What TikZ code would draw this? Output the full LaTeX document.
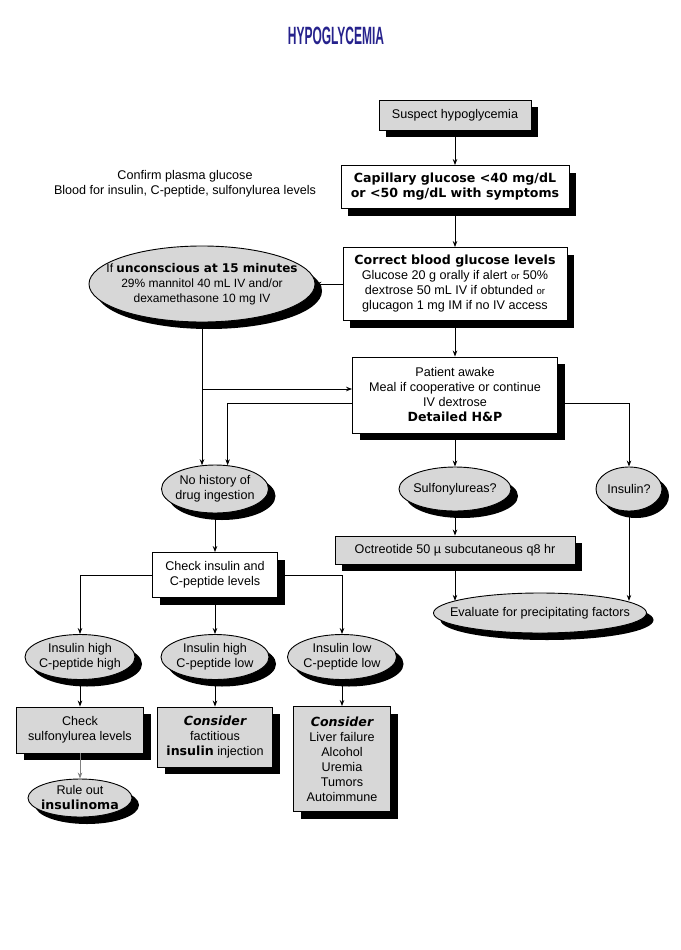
\documentclass[tikz,border=0pt]{standalone}
\usepackage{fontspec}
\setmainfont{Liberation Sans}
\newfontfamily\heavy{DejaVu Sans}
\newfontfamily\titlefont{Liberation Sans}[FakeStretch=0.48]
\usetikzlibrary{shapes.geometric,shadows,arrows.meta}
\definecolor{boxgray}{RGB}{215,215,215}
\definecolor{titleblue}{RGB}{38,34,140}
\newcommand{\hv}[1]{{\heavy\bfseries #1}}
\newcommand{\hvit}[1]{{\heavy\bfseries\itshape #1}}
\newcommand{\orw}{{\fontsize{9.5}{9.5}\selectfont or}}
\tikzset{
  shadowed/.style={drop shadow={shadow xshift=7pt,shadow yshift=-7pt,opacity=1,fill=black}},
  whitebox/.style={rectangle,draw,line width=0.9pt,fill=white,shadowed,align=center,inner sep=2pt},
  graybox/.style={whitebox,fill=boxgray},
  oval/.style={ellipse,draw,line width=0.9pt,fill=boxgray,shadowed,inner sep=0pt},
  link/.style={-{Stealth[length=6pt,width=4.5pt]},line width=0.8pt}
}
\begin{document}
\begin{tikzpicture}[x=1pt,y=-1pt,font=\fontsize{12.6}{15}\selectfont]
\useasboundingbox (0,0) rectangle (680,950);
\node[font=\fontsize{25}{25}\titlefont\bfseries,text=titleblue] (title) at (336,36) {HYPOGLYCEMIA};
\node[graybox,minimum width=152pt,minimum height=30pt] (suspect) at (455,115) {Suspect hypoglycemia};
\node[whitebox,minimum width=228pt,minimum height=43pt] (capil) at (455,187) {\hv{Capillary glucose <40 mg/dL}\\\hv{or <50 mg/dL with symptoms}};
\node[align=center] (confirm) at (185,184) {Confirm plasma glucose\\Blood for insulin, C-peptide, sulfonylurea levels};
\node[whitebox,minimum width=224pt,minimum height=73pt] (correct) at (455,284) {\hv{Correct blood glucose levels}\\Glucose 20 g orally if alert \orw{} 50\%\\dextrose 50 mL IV if obtunded \orw\\glucagon 1 mg IM if no IV access};
\node[oval,minimum width=226pt,minimum height=76pt,label={[align=center,font=\fontsize{12}{15}\selectfont]center:{If \hv{unconscious at 15 minutes}\\29\% mannitol 40 mL IV and/or\\dexamethasone 10 mg IV}}] (uncons) at (202,284) {};
\node[whitebox,minimum width=205pt,minimum height=76pt] (awake) at (455,395) {Patient awake\\Meal if cooperative or continue\\IV dextrose\\\hv{Detailed H\&P}};
\node[oval,minimum width=107pt,minimum height=48pt,label={[align=center]center:{No history of\\drug ingestion}}] (nohist) at (215,489) {};
\node[oval,minimum width=112pt,minimum height=44pt,label={center:Sulfonylureas?}] (sulfo) at (455,489) {};
\node[oval,minimum width=66pt,minimum height=44pt,label={center:Insulin?}] (insul) at (629,489) {};
\node[graybox,minimum width=240pt,minimum height=28pt] (octreo) at (455,550) {Octreotide 50 µ subcutaneous q8 hr};
\node[whitebox,minimum width=125pt,minimum height=45pt] (check) at (215,575) {Check insulin and\\C-peptide levels};
\node[oval,minimum width=213pt,minimum height=40pt,label={center:Evaluate for precipitating factors}] (evalu) at (540,613) {};
\node[oval,minimum width=110pt,minimum height=45pt,label={[align=center]center:{Insulin high\\C-peptide high}}] (hihi) at (80,657) {};
\node[oval,minimum width=108pt,minimum height=45pt,label={[align=center]center:{Insulin high\\C-peptide low}}] (hilo) at (215,657) {};
\node[oval,minimum width=109pt,minimum height=45pt,label={[align=center]center:{Insulin low\\C-peptide low}}] (lolo) at (342,657) {};
\node[graybox,minimum width=127pt,minimum height=46pt] (sulchk) at (80,730) {Check\\sulfonylurea levels};
\node[graybox,minimum width=115pt,minimum height=60pt] (facti) at (215,737) {\hvit{Consider}\\factitious\\\hv{insulin} injection};
\node[graybox,minimum width=97pt,minimum height=105pt] (liver) at (342,759) {\hvit{Consider}\\Liver failure\\Alcohol\\Uremia\\Tumors\\Autoimmune};
\node[oval,minimum width=104pt,minimum height=38pt,label={[align=center]center:{Rule out\\\hv{insulinoma}}}] (ruleout) at (80,798) {};
\draw[link] (suspect) -- (capil);
\draw[link] (capil) -- (correct);
\draw[link] (correct.west) -- (uncons.east);
\draw[link] (correct) -- (awake);
\draw[link] (uncons.south) -- (uncons.south |- nohist.118);
\draw[link] (uncons.south) |- ([yshift=6pt]awake.west);
\draw[link] ([yshift=-8pt]awake.west) -| (nohist.62);
\draw[link] ([yshift=-8pt]awake.east) -| (insul.north);
\draw[link] (awake) -- (sulfo);
\draw[link] (sulfo) -- (octreo);
\draw[link] (octreo.south) -- (octreo.south |- evalu.172);
\draw[link] (insul.south) -- (insul.south |- evalu.8);
\draw[link] (nohist) -- (check);
\draw[link] (check.west) -| (hihi.north);
\draw[link] (check) -- (hilo);
\draw[link] (check.east) -| (lolo.north);
\draw[link] (hihi) -- (sulchk);
\draw[link] (hilo) -- (facti);
\draw[link] (lolo) -- (liver);
\draw[link,gray] (sulchk) -- (ruleout);
\end{tikzpicture}
\end{document}
